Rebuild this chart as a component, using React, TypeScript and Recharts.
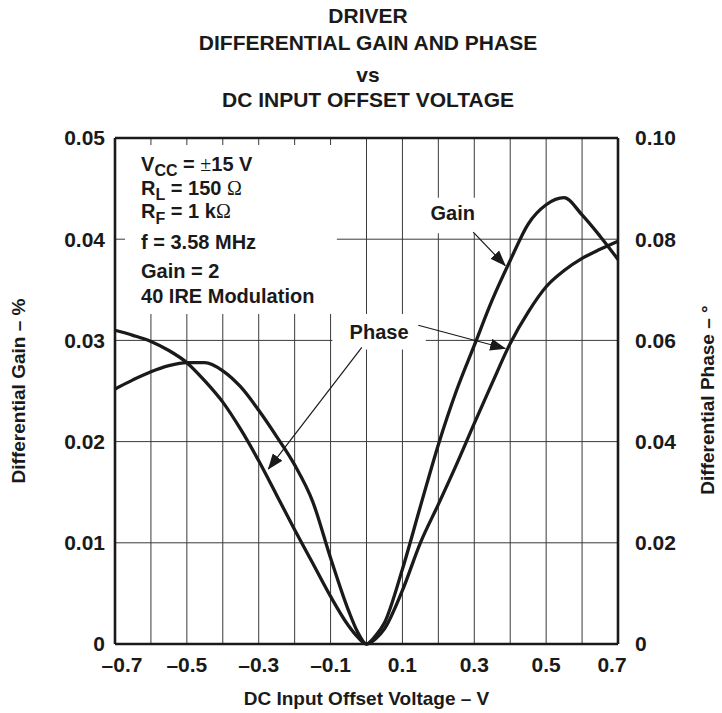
import React from "react";
import {
  CartesianGrid,
  Line,
  LineChart,
  ReferenceArea,
  ReferenceLine,
  XAxis,
  YAxis
} from "recharts";

// DC input offset voltage (V)
const voltage = [
  -0.7, -0.65, -0.6, -0.55, -0.5, -0.45, -0.4, -0.35, -0.3, -0.25, -0.2, -0.15, -0.1, -0.05, -0.025, 0,
  0.025, 0.05, 0.1, 0.15, 0.2, 0.25, 0.3, 0.35, 0.4, 0.45, 0.5, 0.55, 0.6, 0.65, 0.7
];
// differential gain (%), left axis
const gainPct = [
  0.0252, 0.0261, 0.0269, 0.0275, 0.0278, 0.0278, 0.027, 0.0254, 0.0231, 0.0205, 0.0177, 0.0141, 0.0085,
  0.0033, 0.0012, 0, 0.0008, 0.0021, 0.0074, 0.0136, 0.0197, 0.025, 0.0295, 0.034, 0.0379, 0.0415, 0.0434,
  0.0441, 0.0424, 0.0403, 0.038
];
// differential phase (deg), right axis
const phaseDeg = [
  0.062, 0.061, 0.0598, 0.058, 0.0556, 0.052, 0.0478, 0.0424, 0.0362, 0.0294, 0.0226, 0.016, 0.0094,
  0.0036, 0.0014, 0, 0.001, 0.003, 0.0106, 0.02, 0.0276, 0.0354, 0.0436, 0.0516, 0.0594, 0.0656, 0.0706,
  0.0738, 0.0762, 0.078, 0.0796
];

const voltageTicks = [-0.7, -0.6, -0.5, -0.4, -0.3, -0.2, -0.1, 0, 0.1, 0.2, 0.3, 0.4, 0.5, 0.6, 0.7];
const gainTicks = [0, 0.01, 0.02, 0.03, 0.04, 0.05];
const phaseTicks = [0, 0.02, 0.04, 0.06, 0.08, 0.1];

const titleLines = ["DRIVER", "DIFFERENTIAL GAIN AND PHASE", "vs", "DC INPUT OFFSET VOLTAGE"];

// annotation positions, in data units of the left (gain) axis
const conditionsBox = { x1: -0.672, x2: -0.0825, y1: 0.0326, y2: 0.0493 };
const gainLabelBox = { x1: 0.15, x2: 0.33, y1: 0.0406, y2: 0.0441 };
const phaseLabelBox = { x1: -0.095, x2: 0.165, y1: 0.0291, y2: 0.0326 };
const gainArrow = [{ x: 0.297, y: 0.0407 }, { x: 0.386, y: 0.0374 }];
const phaseArrowLeft = [{ x: -0.013, y: 0.0293 }, { x: -0.273, y: 0.0173 }];
const phaseArrowRight = [{ x: 0.144, y: 0.0315 }, { x: 0.386, y: 0.0292 }];

const data = voltage.map((v, i) => ({ v, gain: gainPct[i], phase: phaseDeg[i] }));

const FONT = '"Liberation Sans", Arial, Helvetica, sans-serif';
const SERIF = '"Liberation Serif", "Times New Roman", serif';
const INK = "#1a1a1a";

const fmt2 = (v: number) => (v === 0 ? "0" : v.toFixed(2));

function VoltageTick({ x, y, payload }: any) {
  const v = payload.value as number;
  const tenths = Math.round(v * 10);
  if (tenths % 2 === 0) return <g />;
  const shift = tenths === -7 ? 7 : tenths === 7 ? -6 : 0;
  const label = (v < 0 ? "\u2013" : "") + Math.abs(v).toFixed(1);
  return (
    <text x={x + shift} y={y} dy={28} textAnchor="middle" fill={INK} fontSize={21} fontWeight="bold" fontFamily={FONT}>
      {label}
    </text>
  );
}

function ConditionsText({ viewBox }: any) {
  const x = viewBox.x + 16;
  const y = viewBox.y;
  const common = { fill: INK, fontSize: 20, fontWeight: "bold" as const, fontFamily: FONT };
  return (
    <g>
      <text x={x} y={y + 26} {...common}>
        V<tspan fontSize={16} dy={5}>CC</tspan>
        <tspan dy={-5}> = </tspan>
        <tspan fontFamily={SERIF} fontWeight="normal">±</tspan>
        <tspan>15 V</tspan>
      </text>
      <text x={x} y={y + 50} {...common}>
        R<tspan fontSize={16} dy={5}>L</tspan>
        <tspan dy={-5}> = 150 </tspan>
        <tspan fontFamily={SERIF} fontWeight="normal">Ω</tspan>
      </text>
      <text x={x} y={y + 73} {...common}>
        R<tspan fontSize={16} dy={6}>F</tspan>
        <tspan dy={-6}> = 1 k</tspan>
        <tspan fontFamily={SERIF} fontWeight="normal">Ω</tspan>
      </text>
      <text x={x} y={y + 104} {...common}>f = 3.58 MHz</text>
      <text x={x} y={y + 133} {...common}>Gain = 2</text>
      <text x={x} y={y + 158} {...common}>40 IRE Modulation</text>
    </g>
  );
}

const boxLabel = (text: string, baseline: number) => ({ viewBox }: any) => (
  <text
    x={viewBox.x + viewBox.width / 2}
    y={viewBox.y + baseline}
    textAnchor="middle"
    fill={INK}
    fontSize={20}
    fontWeight="bold"
    fontFamily={FONT}
  >
    {text}
  </text>
);

const arrowShape = (p: any) => (
  <line x1={p.x1} y1={p.y1} x2={p.x2} y2={p.y2} stroke={INK} strokeWidth={1.2} markerEnd="url(#arrowHead)" />
);

const axisLabelStyle = { fill: INK, fontSize: 19, fontWeight: "bold" as const, fontFamily: FONT };

export default function App() {
  const tickStyle = { fill: INK, fontSize: 21, fontWeight: "bold", fontFamily: FONT };
  const border = { stroke: INK, strokeWidth: 2.6 };
  return (
    <div style={{ position: "absolute", left: 0, top: 0, width: 722, height: 713, background: "#fff" }}>
      {titleLines.map((line, i) => (
        <div
          key={line}
          style={{
            position: "absolute",
            left: 0,
            width: 736,
            top: [4.9, 32.2, 63.9, 88.9][i],
            lineHeight: "21px",
            fontSize: 21,
            fontWeight: "bold",
            fontFamily: FONT,
            color: INK,
            textAlign: "center"
          }}
        >
          {line}
        </div>
      ))}
      <LineChart width={722} height={713} data={data} margin={{ top: 138, right: 43, bottom: 29, left: 55 }}>
        <defs>
          <marker
            id="arrowHead"
            viewBox="0 0 16 12"
            refX="15"
            refY="6"
            markerWidth="16"
            markerHeight="12"
            markerUnits="userSpaceOnUse"
            orient="auto"
          >
            <path d="M0,0 L16,6 L0,12 z" fill={INK} />
          </marker>
        </defs>
        <CartesianGrid yAxisId="left" stroke="#3a3a3a" strokeWidth={1} />
        <XAxis
          dataKey="v"
          type="number"
          domain={[-0.7, 0.7]}
          ticks={voltageTicks}
          interval={0}
          height={40}
          tickSize={0}
          tickMargin={0}
          tickLine={false}
          axisLine={border}
          tick={<VoltageTick />}
          label={({ viewBox }: any) => (
            <text x={viewBox.x + viewBox.width / 2} y={viewBox.y + 61} textAnchor="middle" {...axisLabelStyle}>
              DC Input Offset Voltage – V
            </text>
          )}
        />
        <YAxis
          yAxisId="left"
          domain={[0, 0.05]}
          ticks={gainTicks}
          interval={0}
          width={60}
          tickSize={0}
          tickMargin={10}
          tickLine={false}
          axisLine={border}
          tick={tickStyle}
          tickFormatter={fmt2}
          label={({ viewBox }: any) => {
            const cy = viewBox.y + viewBox.height / 2;
            return (
              <text x={18} y={cy} transform={`rotate(-90 18 ${cy})`} textAnchor="middle" dominantBaseline="central" {...axisLabelStyle}>
                Differential Gain – %
              </text>
            );
          }}
        />
        <YAxis
          yAxisId="right"
          orientation="right"
          domain={[0, 0.1]}
          ticks={phaseTicks}
          interval={0}
          width={61}
          tickSize={0}
          tickMargin={17}
          tickLine={false}
          axisLine={border}
          tick={tickStyle}
          tickFormatter={fmt2}
          label={({ viewBox }: any) => {
            const cy = viewBox.y + viewBox.height / 2 + 9;
            return (
              <text x={707} y={cy} transform={`rotate(-90 707 ${cy})`} textAnchor="middle" dominantBaseline="central" {...axisLabelStyle}>
                Differential Phase – °
              </text>
            );
          }}
        />
        <ReferenceLine yAxisId="left" y={0.05} stroke={INK} strokeWidth={2.6} />
        <ReferenceArea yAxisId="left" {...conditionsBox} fill="#fff" fillOpacity={1} stroke="none" label={ConditionsText} />
        <ReferenceArea yAxisId="left" {...gainLabelBox} fill="#fff" fillOpacity={1} stroke="none" label={boxLabel("Gain", 22.3)} />
        <ReferenceArea yAxisId="left" {...phaseLabelBox} fill="#fff" fillOpacity={1} stroke="none" label={boxLabel("Phase", 24.5)} />
        <ReferenceLine yAxisId="left" segment={gainArrow} shape={arrowShape} />
        <ReferenceLine yAxisId="left" segment={phaseArrowLeft} shape={arrowShape} />
        <ReferenceLine yAxisId="left" segment={phaseArrowRight} shape={arrowShape} />
        <Line yAxisId="left" type="monotone" dataKey="gain" stroke={INK} strokeWidth={3.3} dot={false} isAnimationActive={false} />
        <Line yAxisId="right" type="monotone" dataKey="phase" stroke={INK} strokeWidth={3.3} dot={false} isAnimationActive={false} />
      </LineChart>
    </div>
  );
}
